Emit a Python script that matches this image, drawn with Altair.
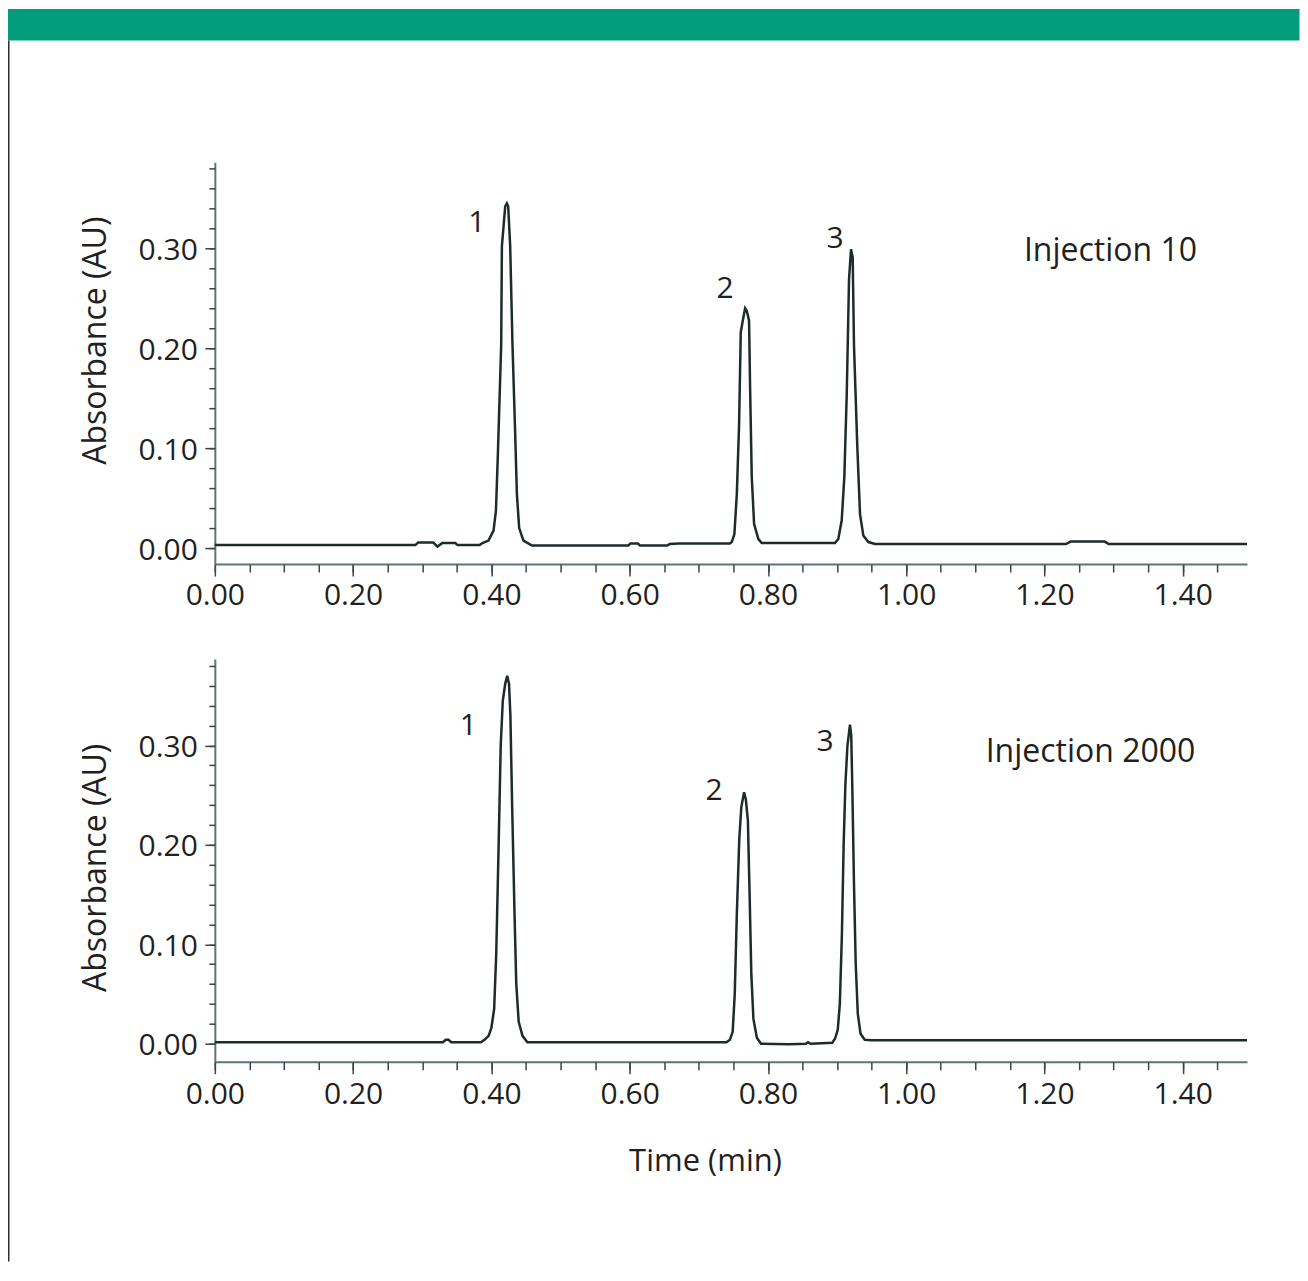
import altair as alt
import pandas as pd

FONT = "Open Sans"
INK = "#231f20"
TRACE = "#1d2b2b"
AXIS = "#5b7775"
TICK = "#3b4646"
GREEN = "#049d7c"

# ---- data: (time in min, absorbance in AU) ----
top_trace = [
    (0.000, 0.003), (0.290, 0.003), (0.294, 0.0055), (0.316, 0.0055), (0.322, 0.0015),
    (0.329, 0.005), (0.348, 0.005), (0.351, 0.003), (0.383, 0.003), (0.387, 0.005),
    (0.3958, 0.0075), (0.4031, 0.0175), (0.4066, 0.0375), (0.4094, 0.094), (0.4142, 0.204),
    (0.4152, 0.302), (0.4200, 0.342), (0.4224, 0.345), (0.4243, 0.342), (0.4272, 0.302),
    (0.4305, 0.204), (0.4344, 0.115), (0.4369, 0.054), (0.4402, 0.020), (0.4464, 0.0075),
    (0.4586, 0.0025), (0.598, 0.0025), (0.601, 0.0045), (0.612, 0.0045), (0.615, 0.0025),
    (0.654, 0.0025), (0.658, 0.004), (0.671, 0.0045), (0.745, 0.0045), (0.7477, 0.006),
    (0.7515, 0.014), (0.755, 0.054), (0.7583, 0.124), (0.7607, 0.216), (0.7636, 0.2275),
    (0.767, 0.240), (0.7694, 0.2375), (0.7727, 0.2275), (0.7742, 0.161), (0.7766, 0.071),
    (0.780, 0.024), (0.7862, 0.009), (0.791, 0.005), (0.897, 0.005), (0.9018, 0.009),
    (0.9067, 0.0275), (0.9105, 0.071), (0.914, 0.154), (0.9173, 0.269), (0.9202, 0.299),
    (0.9226, 0.291), (0.9245, 0.2025), (0.9293, 0.101), (0.9332, 0.034), (0.938, 0.0125),
    (0.9452, 0.006), (0.955, 0.004), (1.231, 0.004), (1.238, 0.0065), (1.287, 0.0065),
    (1.293, 0.004), (1.493, 0.004),
]

bottom_trace = [
    (0.000, 0.0015), (0.330, 0.0015), (0.334, 0.004), (0.338, 0.004), (0.342, 0.0015),
    (0.385, 0.0015), (0.390, 0.004), (0.396, 0.008), (0.400, 0.016), (0.404, 0.035),
    (0.407, 0.09), (0.4105, 0.20), (0.4135, 0.30), (0.4165, 0.345), (0.420, 0.362),
    (0.4229, 0.370), (0.4255, 0.362), (0.4275, 0.33), (0.4300, 0.24), (0.4335, 0.13),
    (0.4360, 0.06), (0.4395, 0.022), (0.445, 0.008), (0.452, 0.0015), (0.740, 0.0015),
    (0.745, 0.004), (0.749, 0.012), (0.752, 0.05), (0.755, 0.13), (0.7585, 0.205),
    (0.7615, 0.238), (0.7655, 0.253), (0.768, 0.246), (0.771, 0.225), (0.7735, 0.15),
    (0.776, 0.07), (0.779, 0.025), (0.784, 0.006), (0.790, 0.0), (0.830, -0.0005),
    (0.855, 0.0), (0.858, 0.0015), (0.862, 0.0), (0.893, 0.001), (0.897, 0.005),
    (0.901, 0.014), (0.904, 0.04), (0.907, 0.11), (0.9095, 0.20), (0.912, 0.26),
    (0.915, 0.30), (0.9187, 0.321), (0.9205, 0.31), (0.922, 0.26), (0.9245, 0.16),
    (0.927, 0.08), (0.930, 0.03), (0.934, 0.01), (0.940, 0.004), (0.950, 0.0035),
    (1.493, 0.0035),
]

peak_names = ["1", "2", "3"]
top_peak_t = [0.379, 0.738, 0.897]
top_peak_a = [0.3257, 0.2597, 0.309]
bottom_peak_t = [0.3665, 0.7221, 0.8827]
bottom_peak_a = [0.3193, 0.254, 0.3032]

run_names = ["Injection 10", "Injection 2000"]
run_t = [1.2954, 1.2665]
run_a = [0.297, 0.2932]

x_major = [0.0, 0.2, 0.4, 0.6, 0.8, 1.0, 1.2, 1.4]
x_minor = [round(0.05 * i, 2) for i in range(30)]
y_major = [0.0, 0.1, 0.2, 0.3]
y_minor = [round(0.02 * i, 2) for i in range(20)]

X_DOMAIN = [0, 1.493]
WIDTH = 1033


def major_x(title, title_on, label_pad):
    kw = dict(values=x_major, format=".2f", grid=False, tickSize=12, tickWidth=1.5,
              tickColor=TICK, domainColor=AXIS, domainWidth=2, labelFont=FONT,
              labelFontSize=30, labelColor=INK, labelPadding=label_pad, labelFlush=False,
              labelOverlap=False, orient="bottom")
    if title_on:
        kw.update(title=title, titleFont=FONT, titleFontSize=31, titleColor=INK,
                  titleFontWeight="normal", titleX=490.5, titleY=108.5,
                  titleAlign="center", titleBaseline="alphabetic")
    else:
        kw.update(title=None)
    return alt.Axis(**kw)


def minor_x():
    return alt.Axis(values=x_minor, grid=False, labels=False, domain=False, tickSize=8,
                    tickWidth=1.5, tickColor=TICK, title=None, orient="bottom")


def major_y(title_y):
    return alt.Axis(values=y_major, format=".2f", grid=False, tickSize=10, tickWidth=1.5,
                    tickColor=TICK, domainColor=AXIS, domainWidth=2, labelFont=FONT,
                    labelFontSize=30, labelColor=INK, labelPadding=7.5, labelOffset=2,
                    labelFlush=False, title="Absorbance (AU)", titleFont=FONT,
                    titleFontSize=32, titleColor=INK, titleFontWeight="normal",
                    titleAngle=270, titleX=-109.5, titleY=title_y, titleAlign="center",
                    titleBaseline="alphabetic", orient="left")


def minor_y():
    return alt.Axis(values=y_minor, grid=False, labels=False, domain=False, tickSize=6,
                    tickWidth=1.5, tickColor=TICK, title=None, orient="left")


def panel(trace, pk_t, pk_a, rn_t, rn_a, run_name, y_domain, height, title_y,
          x_title_on, label_pad, decor):
    xs = alt.Scale(domain=X_DOMAIN, nice=False, zero=False)
    ys = alt.Scale(domain=y_domain, nice=False, zero=False)
    df = pd.DataFrame(trace, columns=["t", "a"])
    line = alt.Chart(df).mark_line(color=TRACE, strokeWidth=2.5, strokeJoin="miter").encode(
        x=alt.X("t:Q", scale=xs, axis=major_x("Time (min)", x_title_on, label_pad)),
        y=alt.Y("a:Q", scale=ys, axis=major_y(title_y)),
        order="t:Q",
    )
    pk = pd.DataFrame({"t": pk_t, "a": pk_a, "lab": peak_names})
    nums = alt.Chart(pk).mark_text(font=FONT, fontSize=30, color=INK, align="center",
                                   baseline="middle").encode(
        x=alt.X("t:Q", scale=xs, axis=minor_x()),
        y=alt.Y("a:Q", scale=ys, axis=minor_y()),
        text="lab:N",
    )
    rn = pd.DataFrame({"t": [rn_t], "a": [rn_a], "lab": [run_name]})
    runlab = alt.Chart(rn).mark_text(font=FONT, fontSize=32, color=INK, align="center",
                                     baseline="middle").encode(
        x=alt.X("t:Q", scale=xs, axis=None),
        y=alt.Y("a:Q", scale=ys, axis=None),
        text="lab:N",
    )
    layers = [line, nums, runlab]
    if decor:
        one = pd.DataFrame({"k": [0]})
        band = alt.Chart(one).mark_rect(color=GREEN, clip=False).encode(
            x=alt.value(-207), x2=alt.value(1085.5),
            y=alt.value(-153.5), y2=alt.value(-122),
        )
        edge = alt.Chart(one).mark_rect(color="#2e2e2e", clip=False).encode(
            x=alt.value(-207), x2=alt.value(-205.5),
            y=alt.value(-122), y2=alt.value(1100),
        )
        layers = [band, edge] + layers
    return alt.layer(*layers).resolve_axis(x="independent", y="independent").properties(
        width=WIDTH, height=height)


top = panel(top_trace, top_peak_t, top_peak_a, run_t[0], run_a[0], run_names[0],
            [-0.016, 0.386], 402, 178, False, 4, True)
bottom = panel(bottom_trace, bottom_peak_t, bottom_peak_a, run_t[1], run_a[1],
               run_names[1], [-0.018, 0.387], 403, 208.5, True, 6, False)

chart = alt.vconcat(top, bottom, spacing=95, bounds="flush").properties(
    padding=0, background="white"
).configure_view(strokeWidth=0)

chart.save("out.html", embed_options={"renderer": "svg", "actions": False})
